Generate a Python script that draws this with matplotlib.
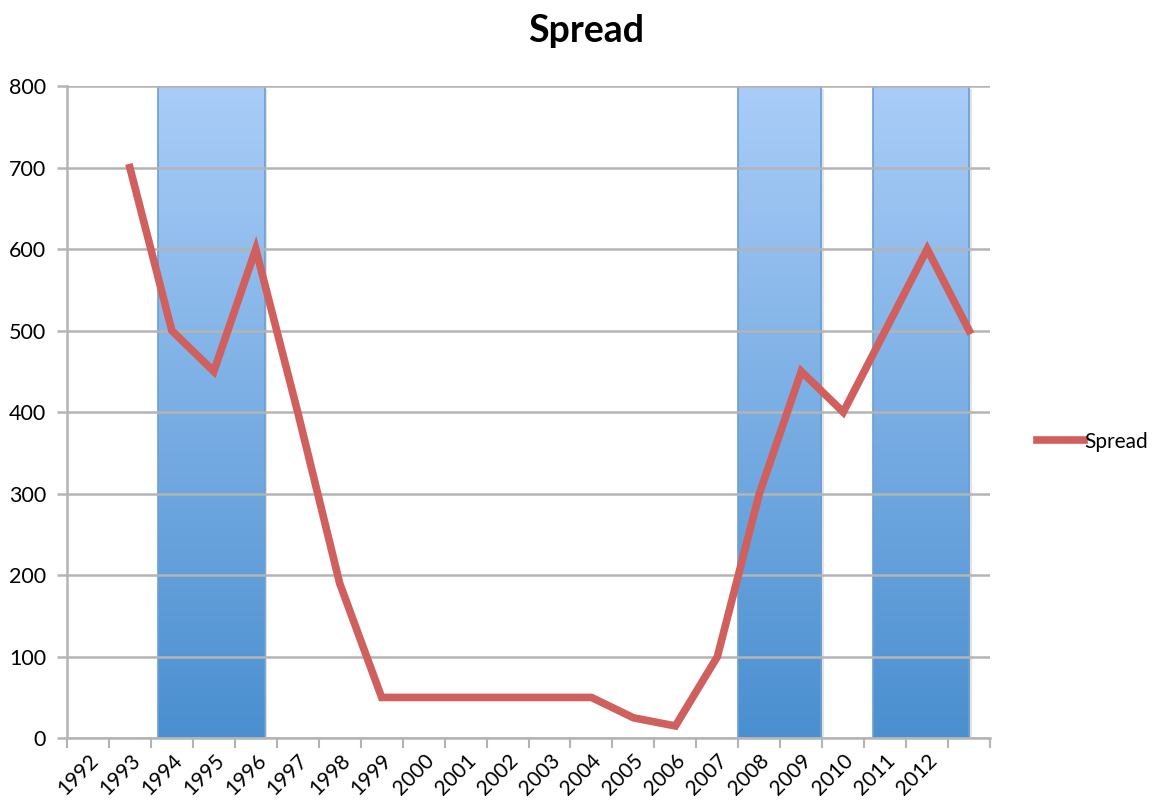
import numpy as np
import matplotlib
matplotlib.use("Agg")
import matplotlib.pyplot as plt
from matplotlib.colors import LinearSegmentedColormap
from matplotlib.patches import Rectangle

plt.rcParams['font.family'] = ['Lato', 'DejaVu Sans']

# categories (last slot has no label)
years = [str(y) for y in range(1992, 2013)] + ['']
spread = [np.nan, 700, 500, 450, 600, 400, 190, 50, 50, 50, 50, 50, 50,
          25, 15, 100, 300, 450, 400, 500, 600, 500]

# shaded periods, in category units
band_start = [2.17, 16.0, 19.2]
band_end = [4.71, 17.98, 21.5]
band_top = 800

fig = plt.figure(figsize=(11.54, 8.05), dpi=100)
ax = fig.add_axes([0.058, 0.083, 0.80, 0.81])

n = len(years)
x = np.arange(n) + 0.5

# gradient columns
cmap = LinearSegmentedColormap.from_list('band', ['#4a8fd0', '#aacdf8'])
grad = np.linspace(0, 1, 256).reshape(-1, 1)
for s, e in zip(band_start, band_end):
    ax.add_patch(Rectangle((s + 0.06, 0), e - s, band_top - 3, facecolor='#c8c8c8',
                           edgecolor='none', alpha=0.5, zorder=0.5))
    ax.imshow(grad, cmap=cmap, origin='lower', aspect='auto',
              extent=[s, e, 0, band_top], zorder=1)
    ax.add_patch(Rectangle((s, 0), e - s, band_top, facecolor='none',
                           edgecolor='#6d9fd2', lw=1.2, zorder=1.2))

ax.plot(x, spread, color='#d0605d', lw=5.5, solid_joinstyle='miter',
        label='Spread', zorder=3)

ax.set_xlim(0, n)
ax.set_ylim(0, 800)
ax.set_yticks(np.arange(0, 801, 100))
ax.grid(axis='y', color='#b4b4b4', lw=1.8)
ax.set_axisbelow(False)
for gl in ax.get_ygridlines():
    gl.set_zorder(2)

ax.set_xticks(np.arange(n + 1))
ax.set_xticklabels([])
ax.set_xticks(x, minor=True)
ax.set_xticklabels(years, minor=True, rotation=45, ha='right',
                   rotation_mode='anchor', fontsize=15)
ax.tick_params(axis='x', which='major', length=7, width=1.5, color='#b4b4b4')
ax.tick_params(axis='x', which='minor', length=0, pad=9)
ax.tick_params(axis='y', length=7, width=1.8, color='#b4b4b4', labelsize=15.5, pad=8)

for side in ['top', 'right']:
    ax.spines[side].set_visible(False)
for side in ['left', 'bottom']:
    ax.spines[side].set_color('#b4b4b4')
    ax.spines[side].set_linewidth(1.8)

fig.text(0.508, 0.962, 'Spread', fontsize=27, fontweight='bold',
         ha='center', va='center')

leg = ax.legend(loc='center left', bbox_to_anchor=(1.03, 0.455), frameon=False,
                fontsize=15, handlelength=2.3, handletextpad=0.0)

fig.savefig('out.png', dpi=100, facecolor='white')
